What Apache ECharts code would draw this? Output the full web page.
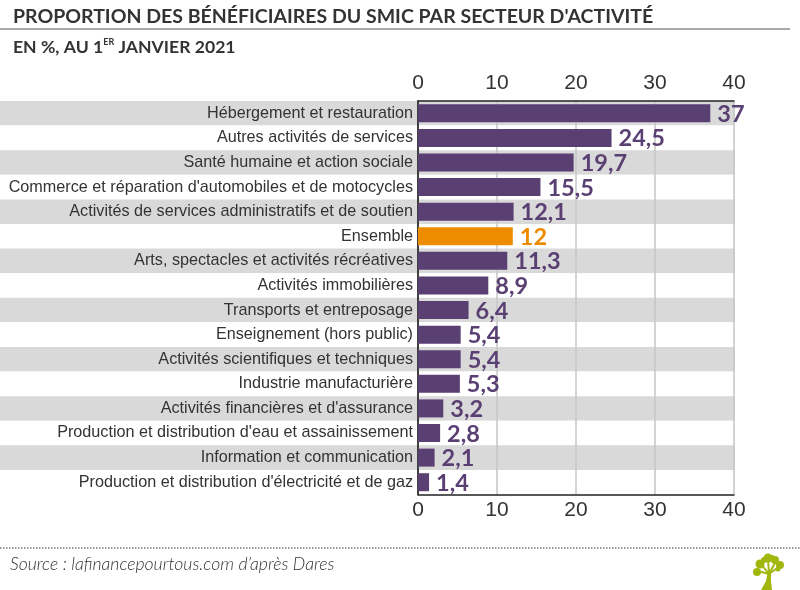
<!DOCTYPE html>
<html>
<head>
<meta charset="utf-8">
<script src="https://cdn.jsdelivr.net/npm/echarts@6/dist/echarts.min.js"></script>
<style>
  html, body { margin: 0; padding: 0; background: #fff; }
  #chart { width: 800px; height: 590px; }
</style>
</head>
<body>
<div id="chart"></div>
<script>
const categories = [
  'Hébergement et restauration',
  'Autres activités de services',
  'Santé humaine et action sociale',
  "Commerce et réparation d'automobiles et de motocycles",
  'Activités de services administratifs et de soutien',
  'Ensemble',
  'Arts, spectacles et activités récréatives',
  'Activités immobilières',
  'Transports et entreposage',
  'Enseignement (hors public)',
  'Activités scientifiques et techniques',
  'Industrie manufacturière',
  "Activités financières et d'assurance",
  "Production et distribution d'eau et assainissement",
  'Information et communication',
  "Production et distribution d'électricité et de gaz"
];
const values = [37, 24.5, 19.7, 15.5, 12.1, 12, 11.3, 8.9, 6.4, 5.4, 5.4, 5.3, 3.2, 2.8, 2.1, 1.4];
const highlighted = 'Ensemble';
const axisTicks = [0, 10, 20, 30, 40];

const purple = '#5a3f73';
const orange = '#ee8c00';
const leaf = '#a2b70e';
const narrow = '"Liberation Sans", sans-serif';
const round = 'Lato, "Noto Sans", sans-serif';

const chart = echarts.init(document.getElementById('chart'));

const valueAxis = (position, margin) => ({
  type: 'value',
  gridIndex: 1,
  position: position,
  min: axisTicks[0],
  max: axisTicks[axisTicks.length - 1],
  interval: axisTicks[1] - axisTicks[0],
  axisLine: { show: true, lineStyle: { color: '#222', width: 1.5 } },
  axisTick: { show: false },
  axisLabel: { show: true, color: '#333', fontFamily: narrow, fontSize: 21, margin: margin },
  splitLine: { show: position === 'top', lineStyle: { color: '#c6c6c6', width: 1.5 } }
});

// logo, drawn by hand: trunk, branches and leaves
const blob = (cx, cy, r) => ({ type: 'circle', shape: { cx, cy, r }, style: { fill: leaf } });
const branch = (x1, y1, x2, y2) => ({ type: 'line', shape: { x1, y1, x2, y2 }, style: { stroke: leaf, lineWidth: 2 } });
const logo = [
  { type: 'polygon', shape: { points: [[761, 590], [766, 581], [768, 571], [771, 571], [771, 581], [772, 590]] }, style: { fill: leaf } },
  branch(769, 574, 758, 571),
  branch(769, 574, 761, 564),
  branch(769, 574, 768, 559),
  branch(769, 574, 776, 561),
  branch(769, 574, 780, 566),
  blob(757, 572, 4), blob(760, 564, 4.5), blob(764, 560, 3), blob(768, 558, 4.5),
  blob(772, 558, 3), blob(775, 560, 4), blob(780, 565, 4), blob(778, 569, 2.5)
];

chart.setOption({
  animation: false,
  backgroundColor: '#fff',
  textStyle: { fontFamily: narrow },
  title: [
    { text: "PROPORTION DES BÉNÉFICIAIRES DU SMIC PAR SECTEUR D'ACTIVITÉ", left: 8, top: 2,
      textStyle: { fontFamily: round, fontSize: 19.5, fontWeight: 700, color: '#333' } },
    { text: 'EN %, AU 1{sup|ER} JANVIER 2021', left: 8, top: 33,
      textStyle: { fontFamily: round, fontSize: 17.6, fontWeight: 700, color: '#333',
        rich: { sup: { fontFamily: round, fontSize: 9, fontWeight: 700, color: '#333', verticalAlign: 'top', padding: [0, 0, 7, 0] } } } },
    { text: 'Source : lafinancepourtous.com d’après Dares', left: 5, top: 550,
      textStyle: { fontFamily: round, fontSize: 17.6, fontWeight: 300, fontStyle: 'italic', color: '#333' } }
  ],
  grid: [
    { left: 0, width: 735, top: 101, height: 393.5 },
    { left: 418, width: 316, top: 101, height: 393.5 }
  ],
  xAxis: [
    { type: 'value', gridIndex: 0, min: 0, max: 1, show: false },
    valueAxis('top', 7),
    valueAxis('bottom', 5)
  ],
  yAxis: [
    {
      type: 'category', gridIndex: 0, data: categories, inverse: true,
      axisLine: { show: false }, axisTick: { show: false }, axisLabel: { show: false },
      splitLine: { show: false },
      splitArea: { show: true, areaStyle: { color: ['#d9d9d9', '#ffffff'] } }
    },
    {
      type: 'category', gridIndex: 1, data: categories, inverse: true,
      axisLine: { show: true, onZero: false, lineStyle: { color: '#111', width: 1.5 } },
      axisTick: { show: false },
      axisLabel: { color: '#333', fontFamily: narrow, fontSize: 16.2, margin: 5 }
    }
  ],
  series: [
    {
      type: 'bar',
      xAxisIndex: 1,
      yAxisIndex: 1,
      barWidth: 18,
      data: values.map((v, i) => ({
        value: v,
        itemStyle: { color: categories[i] === highlighted ? orange : purple },
        label: { color: categories[i] === highlighted ? orange : purple }
      })),
      label: {
        show: true,
        position: 'right',
        distance: 7,
        offset: [0, 1],
        fontFamily: round,
        fontSize: 23.5,
        fontWeight: 700,
        formatter: p => String(p.value).replace('.', ',')
      }
    }
  ],
  graphic: [
    { type: 'line', shape: { x1: 0, y1: 29, x2: 790, y2: 29 }, style: { stroke: '#555', lineWidth: 1 } },
    { type: 'line', shape: { x1: 0, y1: 548, x2: 800, y2: 548 }, style: { stroke: '#333', lineWidth: 1, lineDash: [1.5, 1.5] } },
    { type: 'group', children: logo }
  ]
});
</script>
</body>
</html>
